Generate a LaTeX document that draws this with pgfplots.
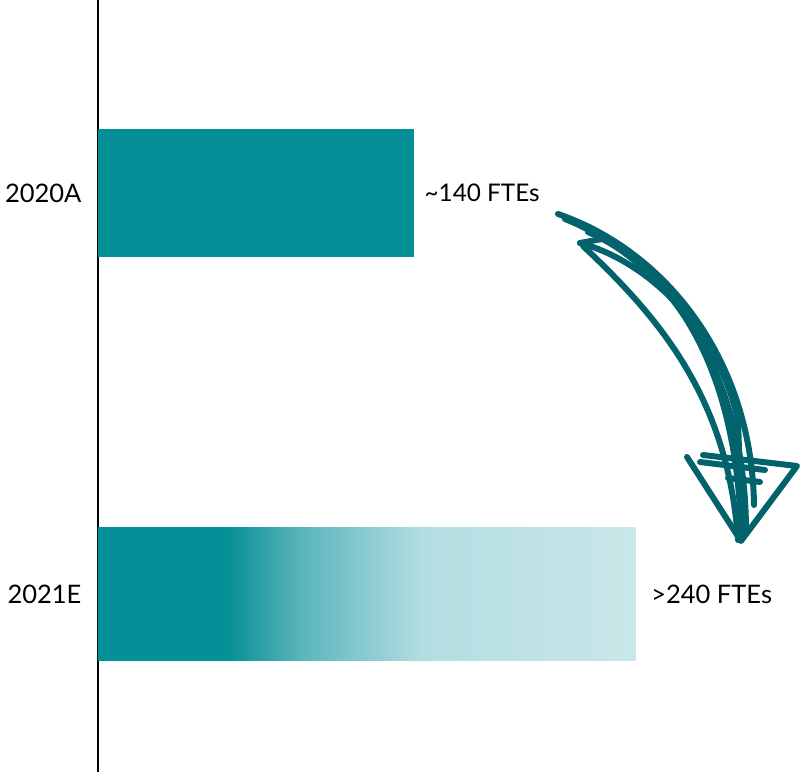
\documentclass[border=0pt]{standalone}
\usepackage{pgfplots}
\pgfplotsset{compat=1.18}
\usepackage{fontspec}
\setmainfont{Lato}
\definecolor{tealbar}{HTML}{058F96}
\definecolor{gmid}{HTML}{5BB6BB}
\definecolor{gmidb}{HTML}{86C9CE}
\definecolor{glight}{HTML}{B3DDE1}
\definecolor{glightb}{HTML}{C9E7E9}
\definecolor{arrowc}{HTML}{03636D}
\pgfdeclarehorizontalshading{ftegrad}{100bp}{color(0bp)=(tealbar); color(25bp)=(tealbar); color(37bp)=(tealbar); color(44bp)=(gmid); color(49.5bp)=(gmidb); color(55bp)=(glight); color(75bp)=(glightb); color(100bp)=(glightb)}
\begin{document}
\begin{tikzpicture}
\begin{axis}[
  scale only axis, width=704pt, height=772pt,
  xmin=0, xmax=312.9, ymin=-0.4439, ymax=1.4813,
  axis x line=none, axis y line=left,
  y axis line style={-, black, line width=1.6pt},
  ytick={0,1}, yticklabels={2021E,2020A},
  major tick length=0pt,
  yticklabel style={font=\fontsize{25.5}{30}\selectfont, xshift=-13pt},
  clip=false,
  xbar, bar shift=0pt,
]
\coordinate (O) at (rel axis cs:0,1);
\addplot[xbar, bar shift=0pt, draw=none, fill=tealbar, bar width=128pt,
  nodes near coords={\textasciitilde140 FTEs},
  every node near coord/.append style={font=\fontsize{24.3}{29}\selectfont, text=black, anchor=west, xshift=7pt}]
  coordinates {(140.5,1)};
\addplot[xbar, bar shift=0pt, draw=none, shading=ftegrad, bar width=132pt,
  nodes near coords={>240 FTEs},
  every node near coord/.append style={font=\fontsize{25.5}{30}\selectfont, text=black, anchor=west, xshift=12pt}]
  coordinates {(239,0)};
\end{axis}
\begin{scope}[shift={(O)}, xshift=-98pt, x=1pt, y=-1pt]
  \begin{scope}[draw=arrowc, line width=6pt, line cap=round, line join=round]
    \draw (558,214) .. controls (668,252) and (752,362) .. (754,505);
    \draw (565,219) .. controls (672,262) and (746,375) .. (746,532);
    \draw (588,232) .. controls (675,270) and (738,370) .. (741,536);
    \draw (580,243) .. controls (650,262) and (718,330) .. (738,420) -- (742,538);
    \draw (583,246) .. controls (662,320) and (728,400) .. (738,540);
    \draw (580,243) -- (602,239);
    \draw (687,457) -- (741,541) -- (797,466) -- (703,455);
    \draw (700,462) -- (765,470);
    \draw (728,478) -- (760,482);
  \end{scope}
  \pgfresetboundingbox
  \useasboundingbox (0,0) rectangle (802,772);
\end{scope}
\end{tikzpicture}
\end{document}
